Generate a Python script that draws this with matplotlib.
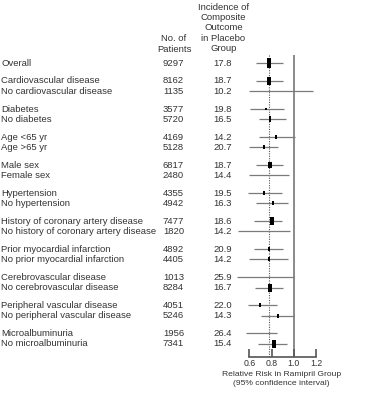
import matplotlib
matplotlib.use("Agg")
import matplotlib.pyplot as plt
from matplotlib.transforms import blended_transform_factory

plt.rcParams["font.family"] = ["Liberation Sans", "DejaVu Sans"]

labels = [
    "Overall",
    "Cardiovascular disease", "No cardiovascular disease",
    "Diabetes", "No diabetes",
    "Age <65 yr", "Age >65 yr",
    "Male sex", "Female sex",
    "Hypertension", "No hypertension",
    "History of coronary artery disease", "No history of coronary artery disease",
    "Prior myocardial infarction", "No prior myocardial infarction",
    "Cerebrovascular disease", "No cerebrovascular disease",
    "Peripheral vascular disease", "No peripheral vascular disease",
    "Microalbuminuria", "No microalbuminuria",
]
patients = [9297, 8162, 1135, 3577, 5720, 4169, 5128, 6817, 2480, 4355, 4942,
            7477, 1820, 4892, 4405, 1013, 8284, 4051, 5246, 1956, 7341]
incidence = ["17.8", "18.7", "10.2", "19.8", "16.5", "14.2", "20.7", "18.7", "14.4",
             "19.5", "16.3", "18.6", "14.2", "20.9", "14.2", "25.9", "16.7",
             "22.0", "14.3", "26.4", "15.4"]
rr = [0.78, 0.775, 0.86, 0.75, 0.79, 0.84, 0.73, 0.79, 0.77, 0.735, 0.81,
      0.80, 0.73, 0.78, 0.775, 0.76, 0.79, 0.70, 0.86, 0.72, 0.82]
ci_low = [0.66, 0.66, 0.60, 0.61, 0.69, 0.69, 0.60, 0.66, 0.60, 0.59, 0.66,
          0.64, 0.50, 0.64, 0.60, 0.49, 0.65, 0.585, 0.705, 0.57, 0.675]
ci_high = [0.90, 0.90, 1.17, 0.91, 0.93, 1.01, 0.86, 0.90, 0.96, 0.89, 0.95,
           0.89, 0.97, 0.90, 0.95, 1.005, 0.90, 0.85, 1.00, 0.85, 0.94]
overall_rr = 0.78
xticks = [0.6, 0.8, 1.0, 1.2]

# row positions: overall, then pairs with a gap between groups
ypos = [0.0]
for i in range(10):
    start = 1.72 + i * 2.68
    ypos += [start, start + 1.0]

W, H = 375, 403
fig = plt.figure(figsize=(W / 100, H / 100), dpi=100)
ax = fig.add_axes([232.65 / W, (H - 357) / H, 88.85 / W, 357 / H])
ax.set_xlim(0.45, 1.25)
ax.set_ylim(28.13, -6.03)

line_top = -0.8
ax.vlines(1.0, line_top, 28.13, color="#8a8a8a", lw=1.4, zorder=1)
ax.vlines(overall_rr, line_top, 28.13, color="#555555", lw=0.8,
          linestyles=(0, (1, 1.2)), zorder=1)

box = [(-0.5, -1), (0.5, -1), (0.5, 1), (-0.5, 1), (-0.5, -1)]
for y, r, lo, hi, n in zip(ypos, rr, ci_low, ci_high, patients):
    ax.hlines(y, lo, hi, color="#7a7a7a", lw=0.9, zorder=2)
    size = max(0.6, (n - 1000) / 8300 * 6.6)
    ax.plot([r], [y], marker=box, ms=size, color="black", mew=0, zorder=3)

for s in ["top", "left", "right"]:
    ax.spines[s].set_visible(False)
ax.spines["bottom"].set_bounds(0.6, 1.2)
ax.spines["bottom"].set_color("#555555")
ax.spines["bottom"].set_linewidth(1.2)
ax.set_yticks([])
ax.set_xticks(xticks)
ax.set_xticklabels([f"{t:.1f}" for t in xticks])
ax.tick_params(axis="x", direction="in", length=6.0, width=1.2, color="#555555",
               pad=1.8, labelsize=6.3, labelcolor="#333333")
ax.patch.set_visible(False)

tr = blended_transform_factory(fig.transFigure, ax.transData)
fs = 6.8
tc = "#333333"
for y, lab, n, inc in zip(ypos, labels, patients, incidence):
    ax.text(1 / W, y, lab, transform=tr, fontsize=fs, color=tc, va="center", ha="left")
    ax.text(184 / W, y, str(n), transform=tr, fontsize=fs, color=tc, va="center", ha="right")
    ax.text(232 / W, y, inc, transform=tr, fontsize=fs, color=tc, va="center", ha="right")

fig.text(174 / W, 1 - 44 / H, "No. of\nPatients", fontsize=fs, color=tc,
         ha="center", va="center", linespacing=1.2)
fig.text(223.5 / W, 1 - 28 / H, "Incidence of\nComposite\nOutcome\nin Placebo\nGroup",
         fontsize=fs, color=tc, ha="center", va="center", linespacing=1.2)
fig.text(281.7 / W, 1 - 379 / H, "Relative Risk in Ramipril Group\n(95% confidence interval)",
         fontsize=6.1, color=tc, ha="center", va="center", linespacing=1.45)

fig.savefig("out.png", dpi=100, facecolor="white")
